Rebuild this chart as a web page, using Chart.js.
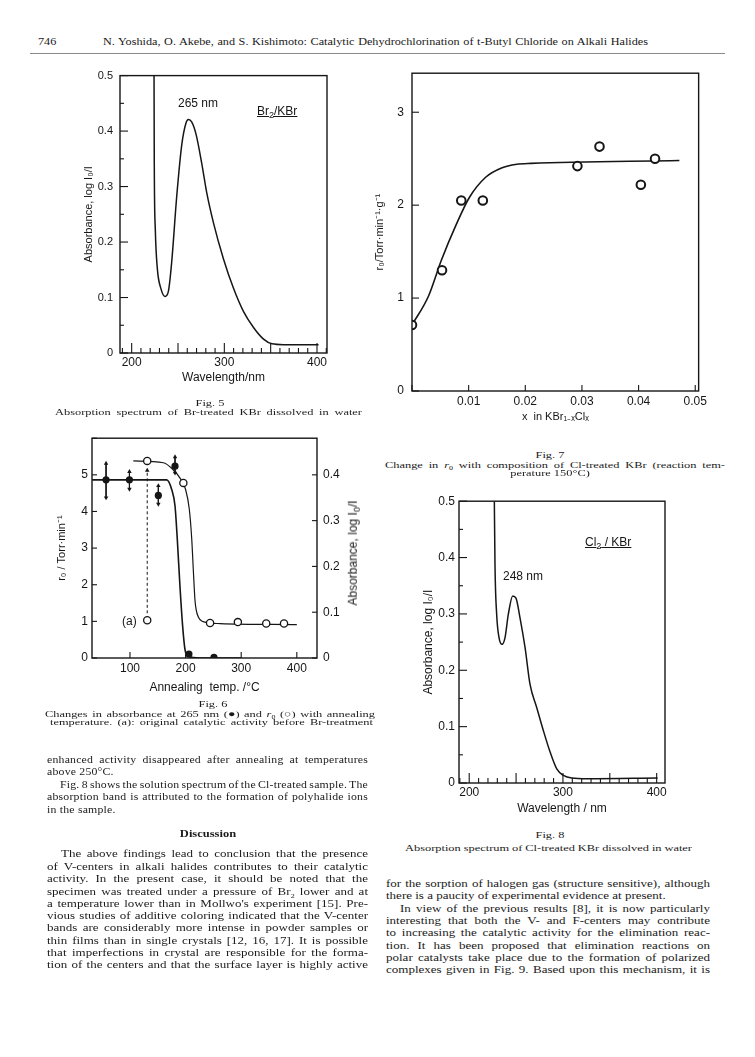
<!DOCTYPE html>
<html>
<head>
<meta charset="utf-8">
<script src="https://cdn.jsdelivr.net/npm/chart.js@4.4.1/dist/chart.umd.min.js"></script>
<style>
body { margin:0; width:755px; height:1057px; position:relative; overflow:hidden; background:#fff; color:#1a1a1a; font-family:'Liberation Serif','Times New Roman',serif; }
canvas { position:absolute; }
.t { position:absolute; white-space:nowrap; line-height:14px; font-size:13px; transform:scaleY(.8); }
.s { font-size:11.8px; letter-spacing:.2px; }
.c { font-size:12.4px; transform:scaleY(.74); }
.h { font-size:12.2px; }
.ctr { transform:translateX(-50%) scaleY(.74); }
.lab { position:absolute; white-space:nowrap; font-family:'Liberation Sans',Arial,sans-serif; font-size:12px; line-height:14px; color:#161616; }
.rule { position:absolute; left:30px; top:53px; width:695px; height:1px; background:#8a8a8a; }
</style>
</head>
<body>

<!-- header -->
<div class="t h" style="left:38px;top:35px">746</div>
<div class="t h j" data-w="545" style="left:103px;top:35px">N. Yoshida, O. Akebe, and S. Kishimoto: Catalytic Dehydrochlorination of t-Butyl Chloride on Alkali Halides</div>
<div class="rule"></div>

<canvas id="fig5" width="285" height="330" style="left:55px;top:62px"></canvas>
<canvas id="fig7" width="350" height="370" style="left:360px;top:58px"></canvas>
<canvas id="fig6" width="340" height="275" style="left:40px;top:425px"></canvas>
<canvas id="fig8" width="295" height="330" style="left:380px;top:490px"></canvas>

<!-- labels inside the plots -->
<div class="lab" style="left:178px;top:96px">265 nm</div>
<div class="lab" style="left:257px;top:104px;text-decoration:underline">Br<sub style="font-size:9px">2</sub>/KBr</div>
<div class="lab" style="left:122px;top:614px">(a)</div>
<div class="lab" style="left:355px;top:553px;transform:translate(-50%,-50%) rotate(-90deg)">Absorbance, log I<sub style="font-size:9px">0</sub>/I</div>
<div class="lab" style="left:503px;top:569px">248 nm</div>
<div class="lab" style="left:585px;top:535px;text-decoration:underline">Cl<sub style="font-size:9px">2</sub> / KBr</div>

<!-- captions -->
<div class="t c ctr" style="left:210px;top:396px">Fig. 5</div>
<div class="t c j" data-w="307" style="left:55px;top:405px">Absorption spectrum of Br-treated KBr dissolved in water</div>

<div class="t c ctr" style="left:550px;top:448px">Fig. 7</div>
<div class="t c j" data-w="340" style="left:385px;top:457px">Change in <i>r</i><sub style="font-size:8px">0</sub> with composition of Cl-treated KBr (reaction tem-</div>
<div class="t c ctr" style="left:550px;top:466px">perature 150°C)</div>

<div class="t c ctr" style="left:213px;top:697px">Fig. 6</div>
<div class="t c j" data-w="330" style="left:45px;top:706px">Changes in absorbance at 265 nm (●) and <i>r</i><sub style="font-size:8px">0</sub> (○) with annealing</div>
<div class="t c j" data-w="323" style="left:50px;top:714.5px">temperature. (a): original catalytic activity before Br-treatment</div>

<div class="t c ctr" style="left:550px;top:828px">Fig. 8</div>
<div class="t c j" data-w="287" style="left:405px;top:841px">Absorption spectrum of Cl-treated KBr dissolved in water</div>

<!-- left column -->
<div class="t s j" data-w="321" style="left:47px;top:753px">enhanced activity disappeared after annealing at temperatures</div>
<div class="t s" style="left:47px;top:765px">above 250°C.</div>
<div class="t s j" data-w="308" style="left:60px;top:778px">Fig. 8 shows the solution spectrum of the Cl-treated sample. The</div>
<div class="t s j" data-w="321" style="left:47px;top:790px">absorption band is attributed to the formation of polyhalide ions</div>
<div class="t s" style="left:47px;top:803px">in the sample.</div>

<div class="t ctr" style="left:208px;top:827px;font-weight:bold;font-size:12.5px;transform:translateX(-50%) scaleY(.8)">Discussion</div>

<div class="t j" data-w="307" style="left:61px;top:847px">The above findings lead to conclusion that the presence</div>
<div class="t j" data-w="321" style="left:47px;top:860px">of V-centers in alkali halides contributes to their catalytic</div>
<div class="t j" data-w="321" style="left:47px;top:872px">activity. In the present case, it should be noted that the</div>
<div class="t j" data-w="321" style="left:47px;top:884px">specimen was treated under a pressure of Br<sub style="font-size:8px">2</sub> lower and at</div>
<div class="t j" data-w="321" style="left:47px;top:897px">a temperature lower than in Mollwo's experiment [15]. Pre-</div>
<div class="t j" data-w="321" style="left:47px;top:909px">vious studies of additive coloring indicated that the V-center</div>
<div class="t j" data-w="321" style="left:47px;top:921px">bands are considerably more intense in powder samples or</div>
<div class="t j" data-w="321" style="left:47px;top:934px">thin films than in single crystals [12, 16, 17]. It is possible</div>
<div class="t j" data-w="321" style="left:47px;top:946px">that imperfections in crystal are responsible for the forma-</div>
<div class="t j" data-w="321" style="left:47px;top:958px">tion of the centers and that the surface layer is highly active</div>

<!-- right column -->
<div class="t j" data-w="324" style="left:386px;top:877px">for the sorption of halogen gas (structure sensitive), although</div>
<div class="t" style="left:386px;top:889px">there is a paucity of experimental evidence at present.</div>
<div class="t j" data-w="310" style="left:400px;top:902px">In view of the previous results [8], it is now particularly</div>
<div class="t j" data-w="324" style="left:386px;top:914px">interesting that both the V- and F-centers may contribute</div>
<div class="t j" data-w="324" style="left:386px;top:926px">to increasing the catalytic activity for the elimination reac-</div>
<div class="t j" data-w="324" style="left:386px;top:939px">tion. It has been proposed that elimination reactions on</div>
<div class="t j" data-w="324" style="left:386px;top:951px">polar catalysts take place due to the formation of polarized</div>
<div class="t j" data-w="324" style="left:386px;top:963px">complexes given in Fig. 9. Based upon this mechanism, it is</div>

<script>
// ====== Fig. 5 : Br-treated KBr ======
const fig5Wave = [224.1, 224.4, 225.5, 227.7, 231.4, 236.0, 239.6, 243.2, 248.6, 254.1, 258.7, 261.2, 264.9, 269.5, 275.7, 281.1, 288.2, 299.0, 309.8, 320.6, 331.5, 342.3, 351.4, 363.9, 401.7];
const fig5Abs = [0.52, 0.341, 0.223, 0.152, 0.117, 0.102, 0.111, 0.164, 0.282, 0.376, 0.415, 0.421, 0.416, 0.394, 0.341, 0.288, 0.235, 0.170, 0.117, 0.075, 0.046, 0.025, 0.0165, 0.015, 0.015];
const fig5XTicks = [200, 300, 400];
const fig5YTicks = [0, 0.1, 0.2, 0.3, 0.4, 0.5];

// ====== Fig. 7 : r0 vs composition ======
const fig7X = [0, 0.0053, 0.0087, 0.0125, 0.0292, 0.0331, 0.0404, 0.0429];
const fig7Rate = [0.71, 1.30, 2.05, 2.05, 2.42, 2.63, 2.22, 2.50];
const fig7FitX = [0, 0.0029, 0.0052, 0.0078, 0.0101, 0.0130, 0.0158, 0.0185, 0.0210, 0.0472];
const fig7Fit = [0.71, 1.02, 1.41, 1.79, 2.08, 2.30, 2.40, 2.44, 2.45, 2.48];
const fig7XTicks = [0.01, 0.02, 0.03, 0.04, 0.05];
const fig7YTicks = [0, 1, 2, 3];

// ====== Fig. 6 : annealing ======
const fig6AbsT = [57, 99, 151, 181, 206, 251];
const fig6Abs = [0.389, 0.389, 0.355, 0.419, 0.0086, 0.0014];
const fig6ErrT = [57, 99, 151, 181];
const fig6ErrHi = [0.425, 0.407, 0.376, 0.439];
const fig6ErrLo = [0.350, 0.369, 0.336, 0.404];
const fig6AbsFitT = [32, 100, 166, 175, 181, 185, 190, 194.8, 199, 205, 226, 300];
const fig6AbsFit = [0.389, 0.389, 0.389, 0.368, 0.332, 0.261, 0.154, 0.068, 0.018, 0.0036, 0, 0];
const fig6RateT = [131, 196, 244, 294, 345, 377];
const fig6Rate = [5.38, 4.78, 0.955, 0.98, 0.94, 0.94];
const fig6OrigT = [131];
const fig6Orig = [1.03];
const fig6ArrowY = [1.22, 5.12];
const fig6RateFitT = [106, 160, 175, 190, 200, 206.7, 211, 214, 217, 223, 235, 262, 400];
const fig6RateFit = [5.38, 5.33, 5.18, 4.91, 4.6, 4.06, 3.26, 2.37, 1.56, 1.12, 0.98, 0.94, 0.91];
const fig6XTicks = [100, 200, 300, 400];
const fig6YTicks = [0, 1, 2, 3, 4, 5];
const fig6RTicks = [0, 0.1, 0.2, 0.3, 0.4];

// ====== Fig. 8 : Cl-treated KBr ======
const fig8Wave = [226.7, 227.5, 229.3, 231.8, 235.0, 238.2, 241.7, 246.4, 249.9, 254.2, 259.6, 264.9, 272.0, 279.1, 286.3, 293.4, 300.5, 309.5, 325.6, 401.0];
const fig8Abs = [0.52, 0.387, 0.299, 0.258, 0.246, 0.258, 0.299, 0.332, 0.328, 0.293, 0.240, 0.175, 0.134, 0.093, 0.055, 0.025, 0.0135, 0.0088, 0.0076, 0.0088];
const fig8XTicks = [200, 300, 400];
const fig8YTicks = [0, 0.1, 0.2, 0.3, 0.4, 0.5];

const INK = '#161616';
Chart.defaults.font.family = "'Liberation Sans', Arial, sans-serif";
Chart.defaults.font.size = 12;
Chart.defaults.color = INK;

const pts = (xs, ys) => xs.map((x, i) => ({ x: x, y: ys[i] }));
const fmt1 = v => (v === 0 ? '0' : v.toFixed(1));

// frame box + tick marks pointing into the plot
const framePlugin = {
    id: 'frame',
    afterDraw(chart, args, opts) {
        const { ctx, chartArea: a } = chart;
        ctx.save();
        ctx.strokeStyle = INK;
        ctx.lineWidth = 1.4;
        ctx.strokeRect(a.left, a.top, a.right - a.left, a.bottom - a.top);
        ctx.lineWidth = 1.1;
        (opts.marks || []).forEach(m => {
            const s = chart.scales[m.axis];
            const i0 = Math.ceil(s.min / m.step - 1e-6);
            for (let i = i0; i * m.step <= s.max + 1e-9; i++) {
                const v = i * m.step;
                const r = v / m.major;
                const len = Math.abs(r - Math.round(r)) < 1e-6 ? m.long : m.short;
                const p = s.getPixelForValue(v);
                ctx.beginPath();
                if (m.side === 'bottom') { ctx.moveTo(p, a.bottom); ctx.lineTo(p, a.bottom - len); }
                if (m.side === 'left') { ctx.moveTo(a.left, p); ctx.lineTo(a.left + len, p); }
                if (m.side === 'right') { ctx.moveTo(a.right, p); ctx.lineTo(a.right - len, p); }
                ctx.stroke();
            }
        });
        ctx.restore();
    }
};

function axis(opts) {
    // fixed axis size so the plot box lands where the scan has it
    return {
        type: 'linear',
        position: opts.position,
        min: opts.min,
        max: opts.max,
        grid: { display: false, drawTicks: false },
        border: { display: false },
        afterBuildTicks: s => { s.ticks = opts.ticks.map(v => ({ value: v })); },
        afterFit: s => {
            if (opts.position === 'bottom') s.height = opts.size; else s.width = opts.size;
        },
        ticks: { autoSkip: false, maxRotation: 0, minRotation: 0, padding: opts.pad, callback: opts.fmt,
                 font: { size: opts.tickSize || 12 } },
        title: opts.title ? { display: true, text: opts.title, padding: opts.titlePad, font: { size: opts.titleSize || 12 } }
                          : { display: false }
    };
}

function curve(data, width) {
    return { data: data, borderColor: INK, borderWidth: width || 1.5, pointRadius: 0, cubicInterpolationMode: 'monotone', fill: false };
}

function baseOptions(padding, scales, marks) {
    return {
        responsive: false,
        animation: false,
        layout: { padding: padding },
        plugins: { legend: { display: false }, tooltip: { enabled: false }, frame: { marks: marks } },
        scales: scales
    };
}

// ---- Fig. 5
new Chart(document.getElementById('fig5'), {
    type: 'line',
    data: { datasets: [curve(pts(fig5Wave, fig5Abs))] },
    options: baseOptions({ top: 8, right: 13, left: 0, bottom: 0 }, {
        x: axis({ position: 'bottom', min: 187.4, max: 410.8, ticks: fig5XTicks, size: 39, pad: 2, fmt: v => String(v),
                  title: 'Wavelength/nm', titlePad: { top: 0, bottom: 7 } }),
        y: axis({ position: 'left', min: 0, max: 0.5, ticks: fig5YTicks, size: 65, pad: 7, fmt: fmt1, tickSize: 11,
                  title: 'Absorbance, log I\u2080/I', titleSize: 11, titlePad: { top: 27, bottom: 0 } })
    }, [
        { axis: 'x', side: 'bottom', step: 10, major: 50, short: 5, long: 10 },
        { axis: 'y', side: 'left', step: 0.05, major: 0.1, short: 4, long: 8 }
    ]),
    plugins: [framePlugin]
});

// ---- Fig. 7
new Chart(document.getElementById('fig7'), {
    type: 'line',
    data: {
        datasets: [
            { data: pts(fig7X, fig7Rate), showLine: false, pointRadius: 4.3, pointBorderWidth: 2,
              pointBorderColor: INK, pointBackgroundColor: '#fff' },
            curve(pts(fig7FitX, fig7Fit), 1.6)
        ]
    },
    options: baseOptions({ top: 7, right: 7, left: 0, bottom: 0 }, {
        x: axis({ position: 'bottom', min: 0, max: 0.0506, ticks: fig7XTicks, size: 37, pad: 3, fmt: v => v.toFixed(2),
                  title: 'x  in KBr\u2081\u208B\u2093Cl\u2093', titleSize: 11, titlePad: { top: 0, bottom: 4 } }),
        y: axis({ position: 'left', min: 0, max: 3.42, ticks: fig7YTicks, size: 52, pad: 8, fmt: v => String(v),
                  title: 'r\u2080/Torr\u00B7min\u207B\u00B9\u00B7g\u207B\u00B9', titleSize: 11, titlePad: { top: 13, bottom: 0 } })
    }, [
        { axis: 'x', side: 'bottom', step: 0.01, major: 0.01, short: 6, long: 6 },
        { axis: 'y', side: 'left', step: 1, major: 1, short: 7, long: 7 }
    ]),
    plugins: [framePlugin]
});

// ---- Fig. 6
const errData = [];
fig6ErrT.forEach((t, i) => {
    errData.push({ x: t, y: fig6ErrHi[i] }, { x: t, y: fig6ErrLo[i] }, { x: t, y: null });
});

new Chart(document.getElementById('fig6'), {
    type: 'line',
    data: {
        datasets: [
            { data: pts(fig6AbsT, fig6Abs), yAxisID: 'yR', showLine: false, pointRadius: 3.6,
              pointBorderWidth: 0, pointBackgroundColor: INK },
            { data: pts(fig6RateT, fig6Rate), yAxisID: 'y', showLine: false, pointRadius: 3.6, pointBorderWidth: 1.3,
              pointBorderColor: INK, pointBackgroundColor: '#fff' },
            { data: pts(fig6OrigT, fig6Orig), yAxisID: 'y', showLine: false, pointRadius: 3.6, pointBorderWidth: 1.3,
              pointBorderColor: INK, pointBackgroundColor: '#fff' },
            { data: errData, yAxisID: 'yR', borderColor: INK, borderWidth: 1, spanGaps: false,
              pointStyle: 'triangle', pointBackgroundColor: INK, pointBorderWidth: 0,
              pointRadius: c => (c.dataIndex % 3 === 2 ? 0 : 2.6),
              pointRotation: c => (c.dataIndex % 3 === 1 ? 180 : 0) },
            { data: fig6ArrowY.map(y => ({ x: fig6OrigT[0], y: y })), yAxisID: 'y', borderColor: INK, borderWidth: 1,
              borderDash: [3, 2.5], pointStyle: 'triangle', pointBackgroundColor: INK, pointBorderWidth: 0,
              pointRadius: [0, 2.6] },
            Object.assign(curve(pts(fig6AbsFitT, fig6AbsFit), 1.6), { yAxisID: 'yR' }),
            Object.assign(curve(pts(fig6RateFitT, fig6RateFit), 1.2), { yAxisID: 'y' })
        ]
    },
    options: baseOptions({ top: 9, right: 0, left: 0, bottom: 0 }, {
        x: axis({ position: 'bottom', min: 31.7, max: 436.3, ticks: fig6XTicks, size: 42, pad: 3, fmt: v => String(v),
                  title: 'Annealing  temp. /\u00B0C', titlePad: { top: 0, bottom: 5 } }),
        y: axis({ position: 'left', min: 0, max: 6, ticks: fig6YTicks, size: 52, pad: 4, fmt: v => String(v),
                  title: 'r\u2080 / Torr\u00B7min\u207B\u00B9', titleSize: 11, titlePad: { top: 15, bottom: 0 } }),
        yR: axis({ position: 'right', min: 0, max: 0.48, ticks: fig6RTicks, size: 63, pad: 6, fmt: fmt1 })
    }, [
        { axis: 'x', side: 'bottom', step: 100, major: 100, short: 6, long: 6 },
        { axis: 'y', side: 'left', step: 1, major: 1, short: 5, long: 5 },
        { axis: 'yR', side: 'right', step: 0.1, major: 0.1, short: 5, long: 5 }
    ]),
    plugins: [framePlugin]
});

// ---- Fig. 8
new Chart(document.getElementById('fig8'), {
    type: 'line',
    data: { datasets: [curve(pts(fig8Wave, fig8Abs))] },
    options: baseOptions({ top: 9, right: 10, left: 0, bottom: 0 }, {
        x: axis({ position: 'bottom', min: 189.1, max: 408.9, ticks: fig8XTicks, size: 37, pad: 2, fmt: v => String(v),
                  title: 'Wavelength / nm', titlePad: { top: 0, bottom: 4 } }),
        y: axis({ position: 'left', min: 0, max: 0.5, ticks: fig8YTicks, size: 79, pad: 4, fmt: fmt1,
                  title: 'Absorbance, log I\u2080/I', titlePad: { top: 41, bottom: 0 } })
    }, [
        { axis: 'x', side: 'bottom', step: 10, major: 50, short: 5, long: 10 },
        { axis: 'y', side: 'left', step: 0.05, major: 0.1, short: 4, long: 8 }
    ]),
    plugins: [framePlugin]
});

// ====== justify text lines to the measured widths ======
document.querySelectorAll('.j').forEach(el => {
    const target = parseFloat(el.dataset.w);
    const natural = el.getBoundingClientRect().width;
    const gaps = (el.textContent.match(/ /g) || []).length;
    if (gaps) el.style.wordSpacing = ((target - natural) / gaps) + 'px';
});
</script>
</body>
</html>
